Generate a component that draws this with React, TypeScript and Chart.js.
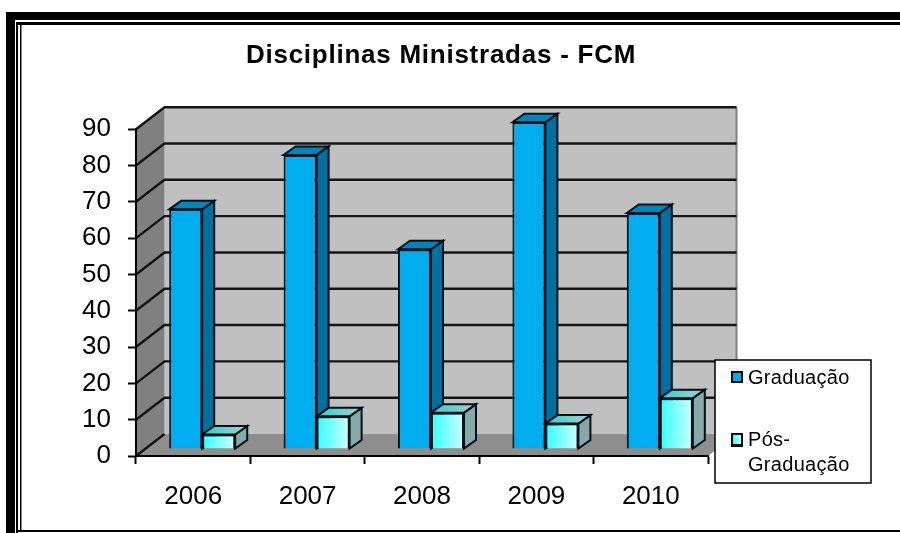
import React, { useEffect, useRef } from "react";
import { Chart, registerables } from "chart.js";

Chart.register(...registerables);

const titleText = "Disciplinas Ministradas - FCM";
const years = ["2006", "2007", "2008", "2009", "2010"];
const seriesGraduacao = [66, 81, 55, 90, 65];
const seriesPos = [4, 9, 10, 7, 14];
const graduacaoLabel = "Graduação";
const posLabel = "Pós-Graduação";
const posLegendLines = ["Pós-", "Graduação"];

const FONT = "'Liberation Sans', Arial, sans-serif";
const BAR_SHIFT = { x: 9, y: -7 };
const BAR_DEPTH = { x: 12, y: -8.5 };
const WALL_DEPTH = { x: 28.5, y: -22 };
const CAT_PCT = 0.577;

function poly(ctx: any, pts: number[][], fill: any, stroke = "#000", lw = 2) {
  ctx.beginPath();
  pts.forEach((p, i) => (i ? ctx.lineTo(p[0], p[1]) : ctx.moveTo(p[0], p[1])));
  ctx.closePath();
  ctx.fillStyle = fill;
  ctx.fill();
  if (stroke) {
    ctx.strokeStyle = stroke;
    ctx.lineWidth = lw;
    ctx.lineJoin = "miter";
    ctx.stroke();
  }
}

function drawFaces(chart: any, index: number) {
  const { ctx } = chart;
  const meta = chart.getDatasetMeta(index);
  const d = BAR_DEPTH;
  ctx.save();
  ctx.translate(BAR_SHIFT.x, BAR_SHIFT.y);
  meta.data.forEach((el: any) => {
    const { x, y, base, width } = el.getProps(["x", "y", "base", "width"], true);
    const l = x - width / 2;
    const r = x + width / 2;
    let topFill: any = "#0086b8";
    let sideFill: any = "#00719f";
    if (index === 1) {
      const g = ctx.createLinearGradient(l, 0, r + d.x, 0);
      g.addColorStop(0, "#2fcfcf");
      g.addColorStop(1, "#a8d0d0");
      topFill = g;
      sideFill = "#88a9a9";
    }
    poly(ctx, [[r, y], [r + d.x, y + d.y], [r + d.x, base + d.y], [r, base]], sideFill, "#001018");
    poly(ctx, [[l, y], [l + d.x, y + d.y], [r + d.x, y + d.y], [r, y]], topFill, "#001018");
  });
  ctx.restore();
}

function spaced(target: any, method: string, spacing: string) {
  if (!target || target["__spaced_" + method]) return;
  target["__spaced_" + method] = true;
  const orig = target[method];
  target[method] = function (...args: any[]) {
    const c = this.ctx;
    const prev = c.letterSpacing;
    c.letterSpacing = spacing;
    orig.apply(this, args);
    c.letterSpacing = prev;
  };
}

const frameAndWalls = {
  id: "frameAndWalls",
  afterLayout(chart: any) {
    if (chart.titleBlock) {
      chart.titleBlock.left = 0;
      chart.titleBlock.right = 882;
      spaced(chart.titleBlock, "draw", "0.75px");
    }
  },
  beforeDraw(chart: any) {
    const { ctx, chartArea: a, scales } = chart;
    const { width: W, height: H } = chart;
    ctx.save();
    ctx.fillStyle = "#fff";
    ctx.fillRect(0, 0, W, H);
    // picture frame
    ctx.fillStyle = "#000";
    ctx.fillRect(6, 12, W - 6, 8);
    ctx.fillRect(6, 12, 9, H - 12);
    ctx.fillRect(16, 22, W - 16, 3);
    ctx.fillRect(16, 22, 2, H - 22);
    ctx.fillRect(20, 22, 1.5, H - 24);
    ctx.fillRect(16, 530, W - 16, 2);

    const dx = WALL_DEPTH.x;
    const dy = WALL_DEPTH.y;
    // back wall
    ctx.fillStyle = "#c0c0c0";
    ctx.fillRect(a.left + dx, a.top + dy, a.width, a.height);
    // right-hand edge of the wall
    ctx.fillStyle = "#808080";
    ctx.fillRect(a.right + dx - 1, a.top + dy, 2, a.height);
    // left wall
    poly(ctx, [[a.left, a.top], [a.left + dx, a.top + dy], [a.left + dx, a.bottom + dy], [a.left, a.bottom]], "#808080", "");
    // floor
    poly(ctx, [[a.left, a.bottom], [a.left + dx, a.bottom + dy], [a.right + dx, a.bottom + dy], [a.right, a.bottom]], "#8e8e8e", "");
    // gridlines
    const y = scales.y;
    ctx.strokeStyle = "#141414";
    ctx.lineWidth = 2.4;
    y.ticks.forEach((t: any) => {
      const py = y.getPixelForValue(t.value);
      ctx.beginPath();
      ctx.moveTo(a.left, py);
      ctx.lineTo(a.left + dx, py + dy);
      if (t.value > 0) ctx.lineTo(a.right + dx, py + dy);
      ctx.stroke();
    });
    ctx.restore();
  },
  // The first series' depth faces go under everything, so the second series covers them.
  beforeDatasetsDraw(chart: any) {
    drawFaces(chart, 0);
  },
  beforeDatasetDraw(chart: any, args: any) {
    if (args.index === 1) drawFaces(chart, 1);
    chart.ctx.save();
    chart.ctx.translate(BAR_SHIFT.x, BAR_SHIFT.y);
  },
  afterDatasetDraw(chart: any) {
    chart.ctx.restore();
  },
  afterDraw(chart: any) {
    const { ctx } = chart;
    ctx.save();
    // legend
    ctx.fillStyle = "#fff";
    ctx.fillRect(715, 360, 156, 123);
    ctx.strokeStyle = "#000";
    ctx.lineWidth = 1.5;
    ctx.strokeRect(715, 360, 156, 123);
    ctx.fillStyle = "#000";
    ctx.fillRect(731, 371, 12, 12);
    ctx.fillStyle = "#00aeef";
    ctx.fillRect(733, 373, 8, 8);
    ctx.fillStyle = "#000";
    ctx.fillRect(731, 433, 12, 14);
    const g = ctx.createLinearGradient(733, 0, 741, 0);
    g.addColorStop(0, "#33ffff");
    g.addColorStop(1, "#ccffff");
    ctx.fillStyle = g;
    ctx.fillRect(733, 435, 8, 9);
    ctx.fillStyle = "#000";
    ctx.font = `20px ${FONT}`;
    ctx.letterSpacing = "0.3px";
    ctx.textAlign = "left";
    ctx.textBaseline = "alphabetic";
    ctx.fillText(chart.data.datasets[0].label, 748, 384);
    ctx.fillText(posLegendLines[0], 748, 446);
    ctx.fillText(posLegendLines[1], 748, 471);
    ctx.letterSpacing = "0px";
    ctx.restore();
  },
};

export default function App() {
  const ref = useRef<HTMLCanvasElement | null>(null);
  useEffect(() => {
    const chart = new Chart(ref.current as HTMLCanvasElement, {
      type: "bar",
      plugins: [frameAndWalls],
      data: {
        labels: years,
        datasets: [
          {
            label: graduacaoLabel,
            data: seriesGraduacao,
            backgroundColor: "#00aeef",
            borderColor: "#001018",
            borderWidth: 2,
            clip: false,
          },
          {
            label: posLabel,
            data: seriesPos,
            backgroundColor: (c: any) => {
              const xs = c.chart.scales?.x;
              const cx = xs && c.dataIndex !== undefined ? xs.getPixelForValue(c.dataIndex) : NaN;
              const step = xs ? xs.width / years.length : NaN;
              if (!Number.isFinite(cx) || !Number.isFinite(step)) return "#66ffff";
              const g = c.chart.ctx.createLinearGradient(cx, 0, cx + (step * CAT_PCT) / 2, 0);
              g.addColorStop(0, "#33ffff");
              g.addColorStop(1, "#ccffff");
              return g;
            },
            borderColor: "#001018",
            borderWidth: 2,
            clip: false,
          },
        ],
      } as any,
      options: {
        responsive: false,
        animation: false,
        events: [],
        layout: { padding: { left: 0, top: 0, right: 192, bottom: 0 } },
        datasets: { bar: { categoryPercentage: CAT_PCT, barPercentage: 1 } },
        plugins: {
          legend: { display: false },
          tooltip: { enabled: false },
          title: {
            display: true,
            text: titleText,
            color: "#000",
            font: { family: FONT, size: 26, weight: "bold", lineHeight: 1.2 },
            padding: { top: 40, bottom: 58 },
          },
        },
        scales: {
          x: {
            grid: { offset: true, drawOnChartArea: false, drawTicks: true, tickLength: 8, tickColor: "#000", tickWidth: 2 },
            border: { display: true, color: "#000", width: 2 },
            ticks: { color: "#000", font: { family: FONT, size: 26 }, padding: 17, maxRotation: 0 },
            afterFit(s: any) {
              s.height = 77;
            },
          },
          y: {
            min: 0,
            max: 90,
            grid: { drawOnChartArea: false, drawTicks: true, tickLength: 8, tickColor: "#000", tickWidth: 2 },
            border: { display: true, color: "#000", width: 2 },
            ticks: { stepSize: 10, color: "#000", font: { family: FONT, size: 26 }, padding: 17 },
            afterFit(s: any) {
              s.width = 136;
            },
          },
        },
      } as any,
    });
    return () => chart.destroy();
  }, []);
  return (
    <div style={{ position: "absolute", left: 0, top: 0, width: 900, height: 533 }}>
      <canvas ref={ref} width={900} height={533} style={{ display: "block" }} />
    </div>
  );
}
